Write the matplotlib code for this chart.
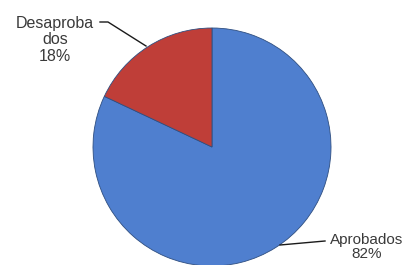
import matplotlib
matplotlib.use("Agg")
import matplotlib.pyplot as plt

labels = ["Aprobados", "Desaprobados"]
label_texts = ["Aprobados\n82%", "Desaproba\ndos\n18%"]
values = [82, 18]
colors = ["#4F7FCF", "#BF3E38"]

fig = plt.figure(figsize=(4.09, 2.65), dpi=100)
ax = fig.add_axes([0, 0, 1, 1])

cx, cy, r = 212, 265 - 147, 119
wedges, _ = ax.pie(values, colors=colors, startangle=90, counterclock=False,
                   center=(cx, cy), radius=r, frame=True,
                   wedgeprops=dict(edgecolor="#2E4E80", linewidth=0.6))
ax.set_xlim(0, 409)
ax.set_ylim(0, 265)
ax.set_aspect("equal")
ax.axis("off")

tc = "#3a3a3a"
# Desaprobados label
ax.text(55, 265 - 40, label_texts[1], ha="center", va="center", fontsize=11.5,
        color=tc, family="Liberation Sans", linespacing=1.15)
ax.plot([100, 108, 146], [265 - 22, 265 - 22, 265 - 46], color="#1a1a1a", lw=1.0)
# Aprobados label
ax.text(367, 265 - 247, label_texts[0], ha="center", va="center", fontsize=11,
        color=tc, family="Liberation Sans", linespacing=1.0)
ax.plot([280, 325], [265 - 245, 265 - 241], color="#1a1a1a", lw=1.0)

fig.savefig("out.png", dpi=100)
